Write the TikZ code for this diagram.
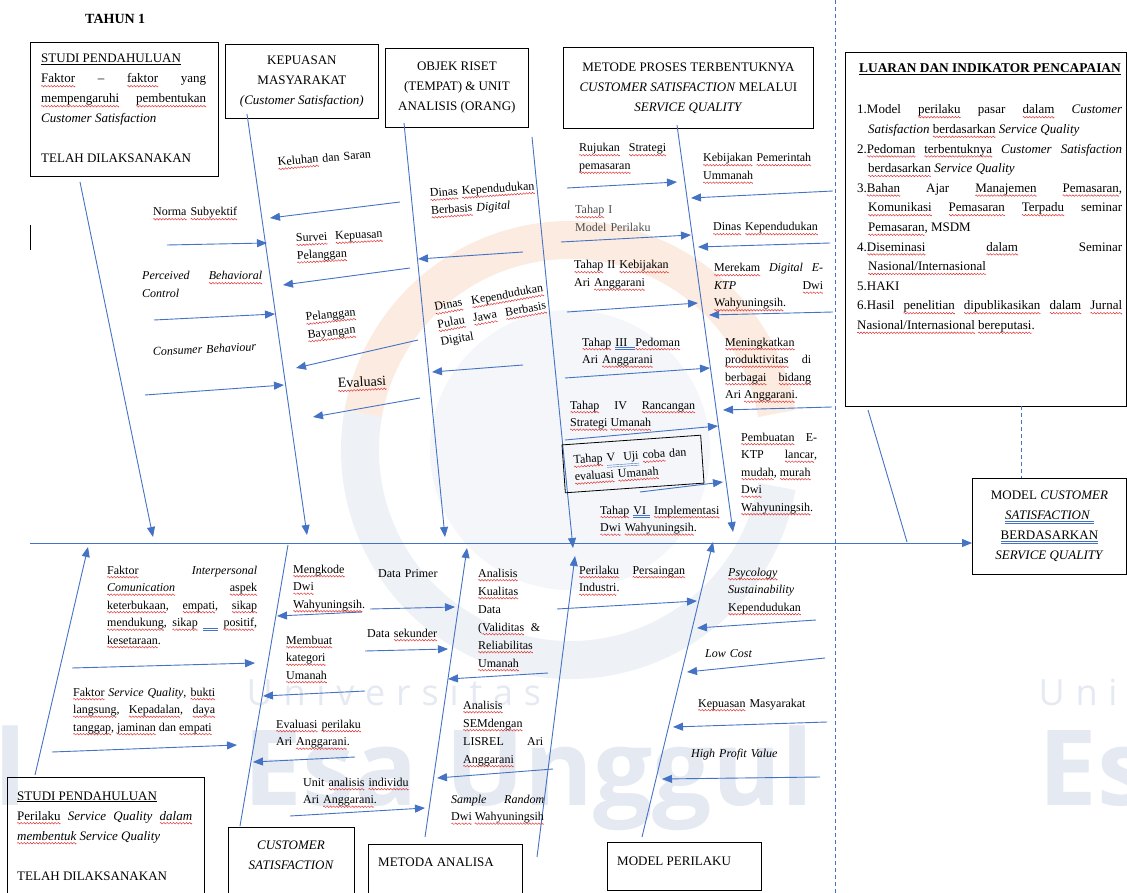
\documentclass[tikz,border=0pt]{standalone}
\usepackage{fontspec}
\setmainfont{Liberation Serif}
\newfontfamily\wmfont{Open Sans}
\newfontfamily\wmfontsp[LetterSpace=30]{Open Sans}
\usetikzlibrary{arrows.meta,positioning}
\definecolor{bonecol}{RGB}{68,114,196}
\definecolor{wmgray}{RGB}{238,241,246}
\definecolor{wmdisk}{RGB}{244,246,249}
\definecolor{wmorange}{RGB}{252,235,224}
\definecolor{wmtext}{RGB}{228,233,242}
\definecolor{sqred}{RGB}{222,45,45}
\newcommand{\dul}[1]{\textcolor{bonecol}{\underline{\underline{\textcolor{black}{#1}}}}}
\newcommand{\hang}{\hangindent=11pt\hangafter=1\relax}
\newsavebox\wavebox
\newcommand{\sq}[1]{\leavevmode\setbox0\hbox{#1}\rlap{\raisebox{-4.2pt}[0pt][0pt]{\hbox to \wd0{\xleaders\copy\wavebox\hfill}}}\box0\relax}

\begin{document}
\sbox\wavebox{\begin{pgfpicture}
  \pgfpathmoveto{\pgfpoint{0pt}{0pt}}\pgfpathlineto{\pgfpoint{0.75pt}{0.8pt}}
  \pgfpathlineto{\pgfpoint{2.25pt}{-0.8pt}}\pgfpathlineto{\pgfpoint{3pt}{0pt}}
  \pgfsetlinewidth{0.45pt}\pgfsetstrokecolor{sqred}\pgfusepath{stroke}
  \pgfresetboundingbox
  \pgfpathrectangle{\pgfpoint{0pt}{-1pt}}{\pgfpoint{3pt}{2pt}}\pgfusepath{use as bounding box}
\end{pgfpicture}}
\begin{tikzpicture}
  [x=1pt,y=-1pt,
   box/.style={draw,line width=0.8pt,inner sep=0pt},
   bone/.style={draw=bonecol,line width=0.9pt},
   rib/.style={bone,-{Triangle[length=10pt,width=8pt]}},
   lbl/.style={anchor=base west,inner sep=0pt,font=\fontsize{12}{17.5}\selectfont,align=left,text width=#1},
   lbl/.default=160pt,
   jst/.style={lbl=#1,align=justify},
   ttl/.style={font=\fontsize{13}{20}\selectfont}]
  \useasboundingbox (0,0) rectangle (1127,893);

  % watermark
  \fill[wmdisk] (570,450) circle[radius=140pt];
  \draw[wmgray,line width=38pt] (570,450) ++(-10:210pt) arc[start angle=-10,end angle=-190,radius=210pt];
  \draw[wmorange,line width=38pt] (570,450) ++(10:210pt) arc[start angle=10,end angle=170,radius=210pt];
  \node[text=wmtext,font=\wmfontsp\fontsize{36}{40}\selectfont,anchor=base west] (wm1) at (243,705) {Universitas};
  \node[text=wmtext,font=\wmfontsp\fontsize{36}{40}\selectfont,anchor=base west] (wm2) at (1035,705) {Univ};
  \node[text=wmtext,font=\wmfont\bfseries\fontsize{105}{110}\selectfont,anchor=base west] (wm3) at (240,805) {Esa Unggul};
  \node[text=wmtext,font=\wmfont\bfseries\fontsize{105}{110}\selectfont,anchor=base west] (wm4) at (1035,805) {Es};
  \node[text=wmtext,font=\wmfont\bfseries\fontsize{105}{110}\selectfont,anchor=base east] (wm5) at (30,805) {l};

  % boxes
  \node[font=\bfseries\fontsize{14}{16}\selectfont,anchor=base west,inner sep=0pt] (thn) at (85,24) {TAHUN 1};
  \node[box,anchor=north west,minimum width=188pt,minimum height=134pt] (st1) at (30,42) {};
  \node[ttl,anchor=base west,inner sep=0pt,text width=165pt,align=justify] (st1t) at (41,63)
    {\underline{STUDI PENDAHULUAN}\\\sq{Faktor} -- \sq{faktor} yang\linebreak \sq{mempengaruhi} \sq{pembentukan}\linebreak \textit{Customer Satisfaction}\\[20pt]TELAH DILAKSANAKAN};
  \node[box,ttl,anchor=north west,minimum width=153pt,minimum height=74pt,align=center] (kep) at (225,44)
    {KEPUASAN\\MASYARAKAT\\\textit{(Customer Satisfaction)}};
  \node[box,ttl,anchor=north west,minimum width=143pt,minimum height=79pt,align=center] (obj) at (385,48)
    {OBJEK RISET\\(TEMPAT) \& UNIT\\ANALISIS (ORANG)};
  \node[box,ttl,anchor=north west,minimum width=250pt,minimum height=81pt,align=center] (met) at (563,47)
    {METODE PROSES TERBENTUKNYA\\\textit{CUSTOMER SATISFACTION} MELALUI\\\textit{SERVICE QUALITY}};
  \node[box,anchor=north west,minimum width=281pt,minimum height=354pt] (lua) at (845,52) {};
  \node[font=\bfseries\fontsize{13.4}{20}\selectfont,anchor=base,inner sep=0pt] (luat) at (990,73)
    {\underline{LUARAN DAN INDIKATOR PENCAPAIAN}};
  \node[anchor=base west,inner sep=0pt,text width=265pt,align=justify,font=\fontsize{13}{19.6}\selectfont] (luai) at (857,114)
    {\hang 1.Model \sq{perilaku} pasar \sq{dalam} \textit{Customer}\linebreak \textit{Satisfaction} \sq{berdasarkan} \textit{Service Quality}\par
     \hang 2.\sq{Pedoman} \sq{terbentuknya} \textit{Customer Satisfaction}\linebreak \sq{berdasarkan} \textit{Service Quality}\par
     \hang 3.\sq{Bahan} Ajar \sq{Manajemen} \sq{Pemasaran},\linebreak \sq{Komunikasi} \sq{Pemasaran} \sq{Terpadu} seminar\linebreak \sq{Pemasaran}, MSDM\par
     \hang 4.\sq{Diseminasi} \sq{dalam} Seminar\linebreak \sq{Nasional/Internasional}\par
     \hang 5.HAKI\par
     \hang 6.Hasil \sq{penelitian} \sq{dipublikasikan} \sq{dalam} \sq{Jurnal}\linebreak \sq{Nasional/Internasional} \sq{bereputasi}.};
  \node[box,ttl,anchor=north west,minimum width=154pt,minimum height=96pt,align=center] (goal) at (972,478)
    {MODEL \textit{CUSTOMER}\\\dul{\textit{SATISFACTION}\ }\\\dul{BERDASARKAN}\\\textit{SERVICE QUALITY}};
  \node[box,anchor=north west,minimum width=197pt,minimum height=125pt] (st2) at (7,777) {};
  \node[ttl,anchor=base west,inner sep=0pt,text width=175pt,align=justify] (st2t) at (17,800)
    {\underline{STUDI PENDAHULUAN}\\\sq{Perilaku} \textit{Service Quality \sq{dalam}}\linebreak \textit{\sq{membentuk} Service Quality}\\[20pt]TELAH DILAKSANAKAN};
  \node[box,anchor=north west,minimum width=126pt,minimum height=75pt] (cs) at (228,827) {};
  \node[anchor=base,inner sep=0pt,align=center,text width=120pt,font=\fontsize{13}{20}\selectfont\itshape] (cst) at (291,849) {CUSTOMER\\SATISFACTION};
  \node[box,anchor=north west,minimum width=154pt,minimum height=55pt] (ma) at (368,844) {};
  \node[ttl,anchor=base west,inner sep=0pt] (mat) at (378,866) {METODA ANALISA};
  \node[box,anchor=north west,minimum width=154pt,minimum height=48pt] (mp) at (607,842) {};
  \node[ttl,anchor=base west,inner sep=0pt] (mpt) at (617,865) {MODEL PERILAKU};

  % dashed guides
  \draw[bonecol,line width=0.8pt,dash pattern=on 4pt off 3pt] (835,0) -- (835,893);
  \draw[bonecol,line width=0.8pt,dash pattern=on 4pt off 3pt] (1021,406) -- (1021,478);
  \draw[line width=0.8pt] (30,225) -- (30,250);

  % spine and bones
  \coordinate (sp) at (30,543);
  \draw[rib] (sp) -- (sp -| goal.west);
  \foreach \n/\xa/\ya/\xb/\yb in {A/80/182/153/537, B/247/114/307/535, C/404/123/445/537,
      D/532/137/573/548, E/677/125/733/532, F/35/775/88/547, H/425/837/467/548,
      I/537/857/575/556, J/642/837/713/542}
    {\coordinate (\n0) at (\xa,\ya); \coordinate (\n2) at (\xb,\yb);
     \draw[rib] (\n0) -- (\n2);}
  \foreach \n/\xa/\ya/\xb/\yb in {G/240/826/288/545, K/868/410/907/542}
    {\coordinate (\n0) at (\xa,\ya); \coordinate (\n2) at (\xb,\yb);
     \draw[bone] (\n0) -- (\n2);}

  % ribs
  \foreach \xa/\ya/\xb/\yb [count=\i] in {167/245/267/243, 154/320/275/314, 145/395/284/385,
      400/202/270/218, 410/268/283/285, 418/340/296/368, 420/398/313/417,
      523/252/418/259, 523/365/432/372,
      567/188/677/182, 561/242/691/235, 567/312/698/303, 565/378/710/368, 565/440/718/426, 640/492/723/482,
      833/191/691/198, 830/243/698/247, 833/312/709/315, 832/407/723/410,
      72/668/255/663, 52/752/237/745, 362/612/277/616, 365/691/263/696, 355/757/253/762, 290/816/425/808,
      370/609/455/607, 365/651/448/649, 548/673/448/679, 553/769/437/778,
      557/609/697/601, 816/620/697/628, 825/658/687/672, 827/722/673/727, 820/777/662/779}
    {\coordinate (r\i a) at (\xa,\ya); \coordinate (r\i b) at (\xb,\yb);
     \draw[rib] (r\i a) -- (r\i b);}

  % labels, upper half
  \node[lbl,rotate=5] (kel) at (278,166) {\sq{Keluhan} dan Saran};
  \node[lbl] (nor) at (153,216) {\sq{Norma} \sq{Subyektif}};
  \node[lbl=95pt,rotate=3] (sur) at (296,242) {\sq{Survei}\ \ \sq{Kepuasan}\\\sq{Pelanggan}};
  \node[jst=120pt] (pbc) at (142,280) {\textit{Perceived \sq{Behavioral}}\linebreak \textit{Control}};
  \node[lbl=80pt,rotate=6] (bay) at (306,321) {\sq{Pelanggan}\\\sq{Bayangan}};
  \node[lbl,rotate=3] (cb) at (153,356) {\textit{Consumer Behaviour}};
  \node[lbl,rotate=3,font=\fontsize{14}{17}\selectfont] (eva) at (338,388) {\sq{Evaluasi}};
  \node[lbl=120pt,rotate=4] (dkd) at (430,197) {\sq{Dinas} \sq{Kependudukan}\\\sq{Berbasis} \textit{Digital}};
  \node[jst=110pt,rotate=10] (dkp) at (435,311) {\sq{Dinas} \sq{Kependudukan}\linebreak \sq{Pulau} \sq{Jawa} \sq{Berbasis}\linebreak Digital};
  \node[jst=87pt] (ruj) at (579,152) {\sq{Rujukan} \sq{Strategi}\linebreak \sq{pemasaran}};
  \node[lbl,text=black!70] (th1) at (575,214) {\sq{Tahap} I\\Model Perilaku};
  \node[lbl] (th2) at (574,269) {\sq{Tahap} II \sq{Kebijakan}\\Ari \sq{Anggarani}};
  \node[lbl] (th3) at (582,346) {\sq{Tahap} \dul{III\ \ }\sq{Pedoman}\\Ari \sq{Anggarani}};
  \node[jst=125pt] (th4) at (570,409) {\sq{Tahap} IV \sq{Rancangan}\linebreak \sq{Strategi} \sq{Umanah}};
  \node[box,rotate=4,minimum width=139pt,minimum height=48pt,font=\fontsize{12}{17}\selectfont,
        align=left,text width=118pt] (th5) at (633,464) {\sq{Tahap} \dul{V\ \ Uji} \sq{coba} dan\\\sq{evaluasi} \sq{Umanah}};
  \node[lbl] (th6) at (600,514) {\sq{Tahap} \dul{VI\ } \sq{Implementasi}\\\sq{Dwi} \sq{Wahyuningsih}.};
  \node[lbl] (kpu) at (703,162) {\sq{Kebijakan} \sq{Pemerintah}\\\sq{Ummanah}};
  \node[lbl] (dk) at (713,231) {\sq{Dinas} \sq{Kependudukan}};
  \node[jst=109pt] (mer) at (714,272) {\sq{Merekam} \textit{Digital E-}\linebreak \textit{KTP} \sq{Dwi}\linebreak \sq{Wahyuningsih}.};
  \node[jst=86pt] (mpr) at (725,346) {\sq{Meningkatkan}\\\sq{produktivitas} di\linebreak \sq{berbagai} \sq{bidang}\linebreak Ari \sq{Anggarani}.};
  \node[jst=76pt] (pem) at (741,441) {\sq{Pembuatan} E-\linebreak KTP \sq{lancar},\linebreak \sq{mudah}, \sq{murah}\\\sq{Dwi}\\\sq{Wahyuningsih}.};

  % labels, lower half
  \node[jst=150pt] (fic) at (107,574) {\sq{Faktor} \textit{Interpersonal}\linebreak \textit{\sq{Comunication}} \sq{aspek}\linebreak
     \sq{keterbukaan}, \sq{empati}, \sq{sikap}\linebreak \sq{mendukung}, \sq{sikap} \dul{\hspace{1.3em}} \sq{positif},\linebreak \sq{kesetaraan}.};
  \node[jst=142pt] (fsq) at (73,696) {\sq{Faktor} \textit{Service Quality}, \sq{bukti}\linebreak \sq{langsung}, \sq{Kepadalan}, \sq{daya}\linebreak \sq{tanggap}, \sq{jaminan} dan \sq{empati}};
  \node[lbl] (mkd) at (293,573) {\sq{Mengkode}\\\sq{Dwi}\\\sq{Wahyuningsih}.};
  \node[lbl] (mkk) at (286,644) {\sq{Membuat}\\\sq{kategori}\\\sq{Umanah}};
  \node[lbl] (evp) at (276,728) {\sq{Evaluasi} \sq{perilaku}\\Ari \sq{Anggarani}.};
  \node[lbl] (uai) at (303,786) {Unit \sq{analisis} \sq{individu}\\Ari \sq{Anggarani}.};
  \node[lbl] (dpr) at (378,577) {Data Primer};
  \node[lbl] (dsk) at (367,637) {Data \sq{sekunder}};
  \node[jst=62pt,font=\fontsize{12}{18}\selectfont] (akd) at (478,577) {\sq{Analisis}\\\sq{Kualitas}\\Data\\(\sq{Validitas} \&\linebreak \sq{Reliabilitas}\\\sq{Umanah}};
  \node[jst=80pt,font=\fontsize{12}{18}\selectfont] (asl) at (463,709) {\sq{Analisis}\\\sq{SEMdengan}\\LISREL Ari\linebreak \sq{Anggarani}};
  \node[jst=93pt] (smr) at (451,803) {\textit{Sample Random}\linebreak \sq{Dwi} \sq{Wahyuningsih}};
  \node[jst=106pt] (pps) at (579,574) {\sq{Perilaku} \sq{Persaingan}\linebreak \sq{Industri}.};
  \node[lbl] (psy) at (728,576) {\textit{\sq{Psycology}}\\\textit{Sustainability}\\\sq{Kependudukan}};
  \node[lbl] (lc) at (705,657) {\textit{Low Cost}};
  \node[lbl] (kpm) at (698,707) {\sq{Kepuasan} Masyarakat};
  \node[lbl] (hpv) at (691,757) {\textit{High Profit Value}};
\end{tikzpicture}
\end{document}
